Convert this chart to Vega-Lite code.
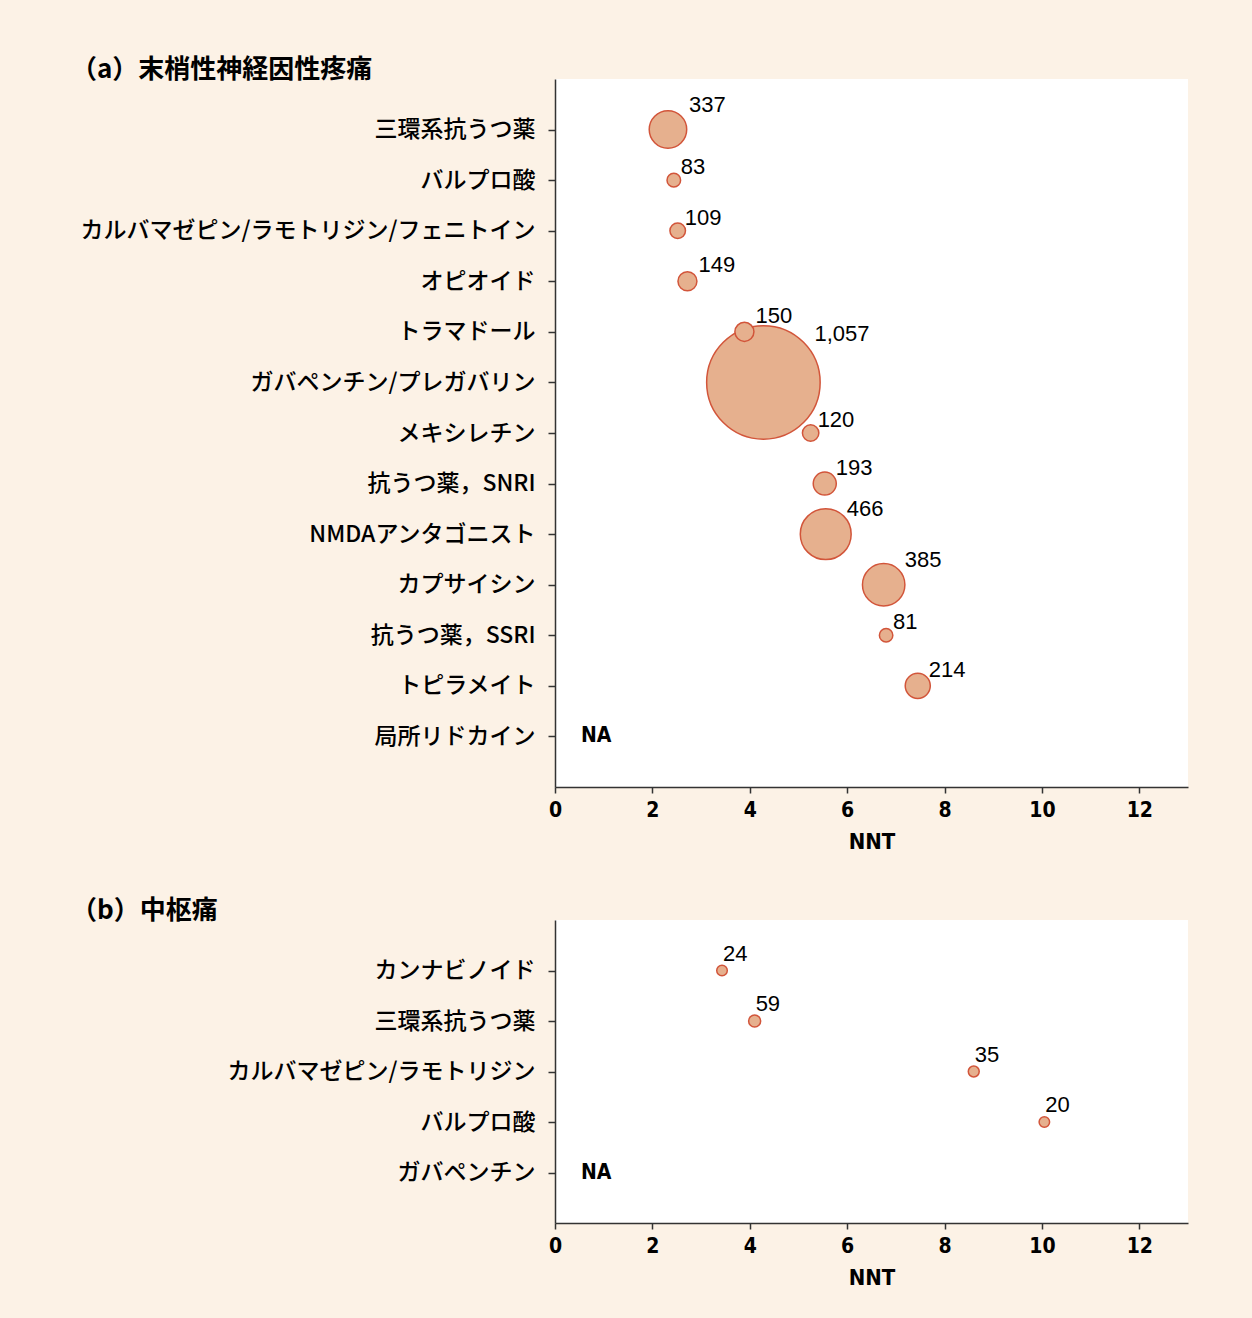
{
  "$schema": "https://vega.github.io/schema/vega-lite/v6.json",
  "background": "#fcf2e6",
  "padding": {"left": 71, "top": 57, "right": 64, "bottom": 48},
  "bounds": "flush",
  "spacing": 133,
  "config": {
    "view": {"fill": "white", "stroke": null},
    "axis": {
      "domainColor": "#333333", "domainWidth": 1.5,
      "tickColor": "#333333", "tickWidth": 1.5,
      "grid": false, "labelColor": "black", "titleColor": "black"
    },
    "title": {"font": "Noto Sans CJK JP", "fontSize": 26, "fontWeight": "bold", "color": "black"}
  },
  "datasets": {
    "a": [
      {"drug": "三環系抗うつ薬", "NNT": 2.32, "N": 337},
      {"drug": "バルプロ酸", "NNT": 2.44, "N": 83},
      {"drug": "カルバマゼピン/ラモトリジン/フェニトイン", "NNT": 2.52, "N": 109},
      {"drug": "オピオイド", "NNT": 2.72, "N": 149},
      {"drug": "トラマドール", "NNT": 3.89, "N": 150},
      {"drug": "ガバペンチン/プレガバリン", "NNT": 4.28, "N": 1057},
      {"drug": "メキシレチン", "NNT": 5.25, "N": 120},
      {"drug": "抗うつ薬，SNRI", "NNT": 5.54, "N": 193},
      {"drug": "NMDAアンタゴニスト", "NNT": 5.56, "N": 466},
      {"drug": "カプサイシン", "NNT": 6.75, "N": 385},
      {"drug": "抗うつ薬，SSRI", "NNT": 6.8, "N": 81},
      {"drug": "トピラメイト", "NNT": 7.45, "N": 214},
      {"drug": "局所リドカイン", "NNT": null, "N": null}
    ],
    "b": [
      {"drug": "カンナビノイド", "NNT": 3.43, "N": 24},
      {"drug": "三環系抗うつ薬", "NNT": 4.1, "N": 59},
      {"drug": "カルバマゼピン/ラモトリジン", "NNT": 8.6, "N": 35},
      {"drug": "バルプロ酸", "NNT": 10.05, "N": 20},
      {"drug": "ガバペンチン", "NNT": null, "N": null}
    ]
  },
  "vconcat": [
    {
      "title": {"text": "（a）末梢性神経因性疼痛", "anchor": "start", "frame": "group", "dx": -484, "offset": -25, "baseline": "alphabetic"},
      "width": 633,
      "height": 708,
      "data": {"name": "a"},
      "encoding": {
        "y": {
          "field": "drug", "type": "nominal", "title": null,
          "scale": {"type": "point", "padding": 1, "domain": ["三環系抗うつ薬", "バルプロ酸", "カルバマゼピン/ラモトリジン/フェニトイン", "オピオイド", "トラマドール", "ガバペンチン/プレガバリン", "メキシレチン", "抗うつ薬，SNRI", "NMDAアンタゴニスト", "カプサイシン", "抗うつ薬，SSRI", "トピラメイト", "局所リドカイン"]},
          "axis": {"labelFont": "Noto Sans CJK JP", "labelFontSize": 23, "labelFontWeight": 500, "tickSize": 7, "labelPadding": 13, "labelLimit": 600}
        }
      },
      "layer": [
        {
          "mark": {"type": "circle", "fill": "#e6b08e", "stroke": "#d2553a", "strokeWidth": 1.5, "opacity": 1, "fillOpacity": 1},
          "encoding": {
            "x": {
              "field": "NNT", "type": "quantitative", "title": "NNT",
              "scale": {"domain": [0, 13], "nice": false},
              "axis": {"values": [0, 2, 4, 6, 8, 10, 12], "labelFlush": false, "labelFont": "DejaVu Sans Condensed, Liberation Sans", "labelFontSize": 21, "labelFontWeight": "bold", "titleFont": "DejaVu Sans Condensed, Liberation Sans", "titleFontSize": 22, "titleFontWeight": "bold", "tickSize": 6, "labelPadding": 6, "titlePadding": 11}
            },
            "size": {"field": "N", "type": "quantitative", "legend": null, "scale": {"type": "pow", "exponent": 2, "domain": [81, 1057], "range": [110, 12882], "zero": false}},
            "order": {"field": "N", "sort": "descending"}
          }
        },
        {
          "transform": [{"filter": "datum.N < 130"}],
          "mark": {"type": "text", "align": "left", "baseline": "middle", "dx": 7, "dy": -13, "font": "Liberation Sans", "fontSize": 22, "color": "black"},
          "encoding": {
            "x": {"field": "NNT", "type": "quantitative"},
            "text": {"field": "N", "type": "quantitative", "format": ",d"}
          }
        },
        {
          "transform": [{"filter": "datum.N >= 130 && datum.N < 250"}],
          "mark": {"type": "text", "align": "left", "baseline": "middle", "dx": 11, "dy": -16, "font": "Liberation Sans", "fontSize": 22, "color": "black"},
          "encoding": {
            "x": {"field": "NNT", "type": "quantitative"},
            "text": {"field": "N", "type": "quantitative", "format": ",d"}
          }
        },
        {
          "transform": [{"filter": "datum.N >= 250 && datum.N < 600"}],
          "mark": {"type": "text", "align": "left", "baseline": "middle", "dx": 21, "dy": -25, "font": "Liberation Sans", "fontSize": 22, "color": "black"},
          "encoding": {
            "x": {"field": "NNT", "type": "quantitative"},
            "text": {"field": "N", "type": "quantitative", "format": ",d"}
          }
        },
        {
          "transform": [{"filter": "datum.N >= 600"}],
          "mark": {"type": "text", "align": "left", "baseline": "middle", "dx": 51, "dy": -48, "font": "Liberation Sans", "fontSize": 22, "color": "black"},
          "encoding": {
            "x": {"field": "NNT", "type": "quantitative"},
            "text": {"field": "N", "type": "quantitative", "format": ",d"}
          }
        },
        {
          "transform": [{"filter": "datum.NNT === null"}],
          "mark": {"type": "text", "align": "left", "baseline": "middle", "dx": 26, "font": "DejaVu Sans Condensed, Liberation Sans", "fontWeight": "bold", "fontSize": 21, "color": "black"},
          "encoding": {
            "x": {"datum": 0},
            "text": {"value": "NA"}
          }
        }
      ]
    },
    {
      "title": {"text": "（b）中枢痛", "anchor": "start", "frame": "group", "dx": -484, "offset": -25, "baseline": "alphabetic"},
      "width": 633,
      "height": 303,
      "data": {"name": "b"},
      "encoding": {
        "y": {
          "field": "drug", "type": "nominal", "title": null,
          "scale": {"type": "point", "padding": 1, "domain": ["カンナビノイド", "三環系抗うつ薬", "カルバマゼピン/ラモトリジン", "バルプロ酸", "ガバペンチン"]},
          "axis": {"labelFont": "Noto Sans CJK JP", "labelFontSize": 23, "labelFontWeight": 500, "tickSize": 7, "labelPadding": 13, "labelLimit": 600}
        }
      },
      "layer": [
        {
          "mark": {"type": "circle", "fill": "#e6b08e", "stroke": "#d2553a", "strokeWidth": 1.5, "opacity": 1, "fillOpacity": 1},
          "encoding": {
            "x": {
              "field": "NNT", "type": "quantitative", "title": "NNT",
              "scale": {"domain": [0, 13], "nice": false},
              "axis": {"values": [0, 2, 4, 6, 8, 10, 12], "labelFlush": false, "labelFont": "DejaVu Sans Condensed, Liberation Sans", "labelFontSize": 21, "labelFontWeight": "bold", "titleFont": "DejaVu Sans Condensed, Liberation Sans", "titleFontSize": 22, "titleFontWeight": "bold", "tickSize": 6, "labelPadding": 6, "titlePadding": 11}
            },
            "size": {"field": "N", "type": "quantitative", "legend": null, "scale": {"type": "log", "domain": [20, 59], "range": [12, 140]}}
          }
        },
        {
          "mark": {"type": "text", "align": "left", "baseline": "middle", "dx": 1, "dy": -17, "font": "Liberation Sans", "fontSize": 22, "color": "black"},
          "encoding": {
            "x": {"field": "NNT", "type": "quantitative"},
            "text": {"field": "N", "type": "quantitative", "format": ",d"}
          }
        },
        {
          "transform": [{"filter": "datum.NNT === null"}],
          "mark": {"type": "text", "align": "left", "baseline": "middle", "dx": 26, "font": "DejaVu Sans Condensed, Liberation Sans", "fontWeight": "bold", "fontSize": 21, "color": "black"},
          "encoding": {
            "x": {"datum": 0},
            "text": {"value": "NA"}
          }
        }
      ]
    }
  ]
}
